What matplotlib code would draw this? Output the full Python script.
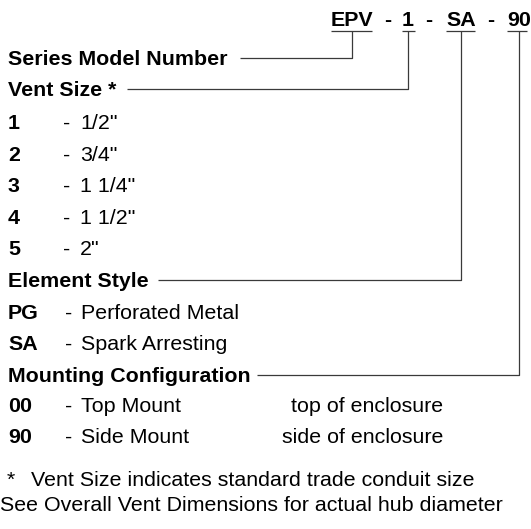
import matplotlib
matplotlib.use("Agg")
import matplotlib.pyplot as plt

# model number breakdown
header_codes = ["EPV", "1", "SA", "90"]
section_titles = ["Series Model Number", "Vent Size *", "Element Style", "Mounting Configuration"]

vent_codes = ["1", "2", "3", "4", "5"]
vent_sizes = ['1/2"', '3/4"', '1 1/4"', '1 1/2"', '2"']

element_codes = ["PG", "SA"]
element_names = ["Perforated Metal", "Spark Arresting"]

mount_codes = ["00", "90"]
mount_names = ["Top Mount", "Side Mount"]
mount_notes = ["top of enclosure", "side of enclosure"]

footnote_mark = "*"
footnotes = ["Vent Size indicates standard trade conduit size",
             "See Overall Vent Dimensions for actual hub diameter"]

plt.rcParams['font.family'] = ['Liberation Sans', 'DejaVu Sans']
FS = 15.4
LINE = dict(color='#3a3a3a', linewidth=0.9, solid_capstyle='butt')

fig = plt.figure(figsize=(5.31, 5.29), dpi=100)
ax = fig.add_axes([0, 0, 1, 1])
ax.set_xlim(0, 531)
ax.set_ylim(529, 0)
ax.axis('off')


def txt(x, y, s, bold=False, ha='left'):
    ax.text(x, y, s, fontsize=FS, fontweight='bold' if bold else 'normal',
            ha=ha, va='baseline', color='black')


# header: EPV - 1 - SA - 90
head_y = 26
under_y = 31
code_x = [331, 402, 446, 507]
code_w = [41, 13, 29, 20]
dash_x = [388, 429, 491]
for cx, cw, code in zip(code_x, code_w, header_codes):
    txt(cx, head_y, code, bold=True)
    ax.plot([cx, cx + cw], [under_y, under_y], **LINE)
for dx in dash_x:
    txt(dx, head_y, "-", bold=True, ha='center')

# section title baselines and leader line start points
title_y = [65, 96, 287, 382]
line_start = [240, 127, 158, 257]
drop_x = [352, 408, 461, 519]
for title, ty, xs, xd in zip(section_titles, title_y, line_start, drop_x):
    txt(8, ty, title, bold=True)
    ly = ty - 7.5
    ax.plot([xs, xd, xd], [ly, ly, under_y], **LINE)

# vent sizes
vent_y = [129, 161, 192, 224, 255]
for code, size, y in zip(vent_codes, vent_sizes, vent_y):
    txt(8, y, code, bold=True)
    txt(63, y, "-")
    txt(80, y, size)

# element styles
elem_y = [319, 350]
for code, name, y in zip(element_codes, element_names, elem_y):
    txt(8, y, code, bold=True)
    txt(65, y, "-")
    txt(81, y, name)

# mounting
mount_y = [412, 443]
for code, name, note, y in zip(mount_codes, mount_names, mount_notes, mount_y):
    txt(8, y, code, bold=True)
    txt(65, y, "-")
    txt(81, y, name)
    txt(443, y, note, ha='right')

# footnotes
txt(7, 486, footnote_mark)
txt(31, 486, footnotes[0])
txt(0, 511, footnotes[1])

fig.savefig("out.png", dpi=100)
